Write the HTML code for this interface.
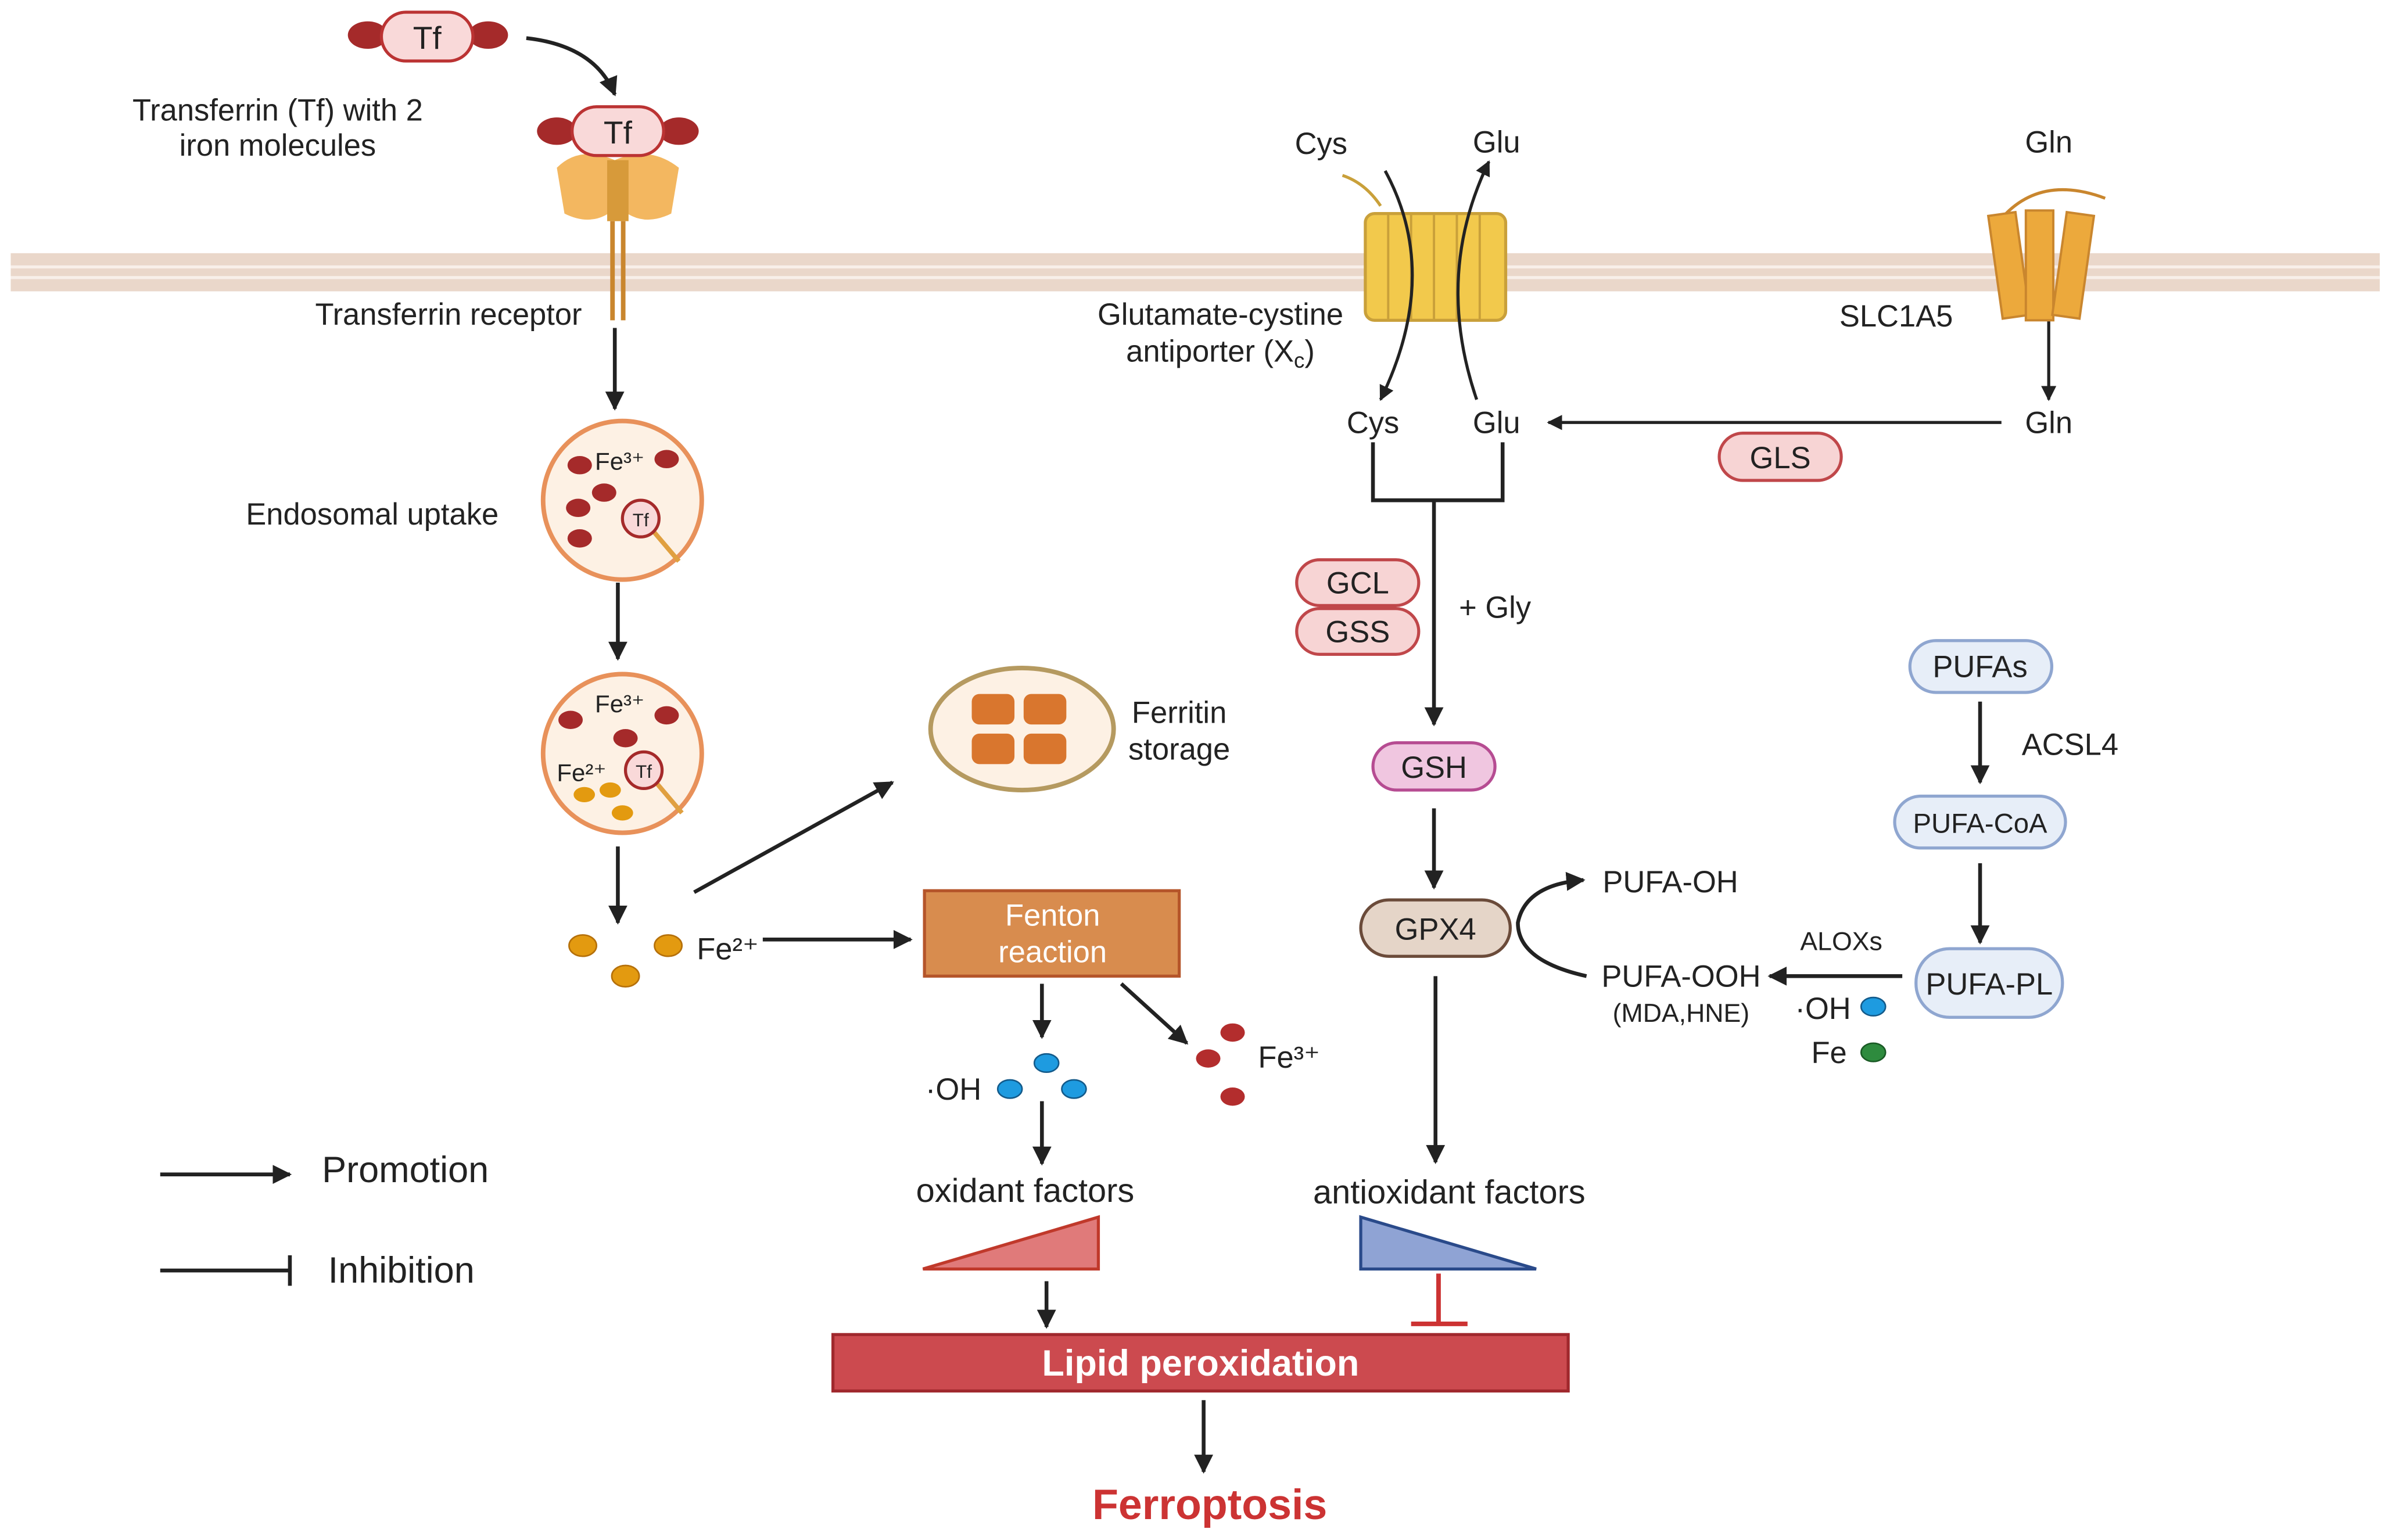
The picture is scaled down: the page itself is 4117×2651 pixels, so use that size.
<!DOCTYPE html>
<html><head><meta charset="utf-8"><style>html,body{margin:0;padding:0;background:#fff}svg{display:block}</style></head>
<body>
<svg width="4117" height="2651" viewBox="0 0 1568 1009.7" xmlns="http://www.w3.org/2000/svg" font-family="Liberation Sans, sans-serif">
<defs>
<marker id="ah" viewBox="0 0 10 10" refX="9" refY="5" markerWidth="5" markerHeight="5" orient="auto-start-reverse"><path d="M0,0 L10,5 L0,10 z" fill="#222"/></marker>
</defs>
<rect width="1568" height="1010" fill="#fff"/>
<!-- membrane -->
<rect x="7" y="166" width="1553" height="25" fill="#ead7ca"/>
<rect x="7" y="174" width="1553" height="2" fill="#f8efe9"/>
<rect x="7" y="181" width="1553" height="2" fill="#f8efe9"/>
<!-- Xc transporter -->
<rect x="895" y="140" width="92" height="70" rx="6" fill="#f2c94c" stroke="#c9a03a" stroke-width="2"/>
<g stroke="#c9a03a" stroke-width="1.5"><line x1="910" y1="140" x2="910" y2="210"/><line x1="925" y1="140" x2="925" y2="210"/><line x1="940" y1="140" x2="940" y2="210"/><line x1="955" y1="140" x2="955" y2="210"/><line x1="970" y1="140" x2="970" y2="210"/></g>
<g stroke="#222" stroke-width="2.5" fill="none" marker-end="url(#ah)">
<path d="M345,25 Q390,30 403,62"/>
<line x1="403" y1="215" x2="403" y2="268"/>
<line x1="405" y1="382" x2="405" y2="432"/>
<line x1="405" y1="555" x2="405" y2="605"/>
<line x1="500" y1="616" x2="597" y2="616"/>
<line x1="455" y1="585" x2="585" y2="513"/>
<line x1="683" y1="645" x2="683" y2="680"/>
<line x1="735" y1="645" x2="778" y2="684"/>
<line x1="683" y1="722" x2="683" y2="763"/>
<line x1="686" y1="840" x2="686" y2="870"/>
<line x1="789" y1="918" x2="789" y2="965"/>
<line x1="105" y1="770" x2="190" y2="770"/>
<line x1="940" y1="328" x2="940" y2="475"/>
<line x1="940" y1="530" x2="940" y2="582"/>
<line x1="941" y1="640" x2="941" y2="762"/>
<line x1="1343" y1="140" x2="1343" y2="262" stroke-width="2"/>
<line x1="1312" y1="277" x2="1015" y2="277" stroke-width="2"/>
<line x1="1298" y1="460" x2="1298" y2="513"/>
<line x1="1298" y1="566" x2="1298" y2="618"/>
<line x1="1247" y1="640" x2="1160" y2="640"/>
<path d="M1040,640 Q995,630 995,605 Q1000,580 1038,577"/>
<path d="M908,112 Q945,180 905,262" stroke-width="2"/>
<path d="M968,262 Q940,180 976,106" stroke-width="2"/>
</g>
<g stroke="#222" stroke-width="2.5" fill="none">
<line x1="105" y1="833" x2="190" y2="833"/><line x1="190" y1="823" x2="190" y2="843"/>
<path d="M900,290 V328 H985 V290"/>
</g>
<path d="M880,115 Q895,120 905,135" stroke="#c9a03a" stroke-width="2" fill="none"/>
<g stroke="#cc3333" stroke-width="3"><line x1="943" y1="835" x2="943" y2="868"/><line x1="925" y1="868" x2="962" y2="868"/></g>
<!-- Tf top -->
<ellipse cx="241" cy="23" rx="13" ry="9" fill="#a52a2a"/><ellipse cx="320" cy="23" rx="13" ry="9" fill="#a52a2a"/>
<rect x="250" y="8" width="60" height="32" rx="16" fill="#f9d9d9" stroke="#b33" stroke-width="2"/>
<text x="280" y="32" font-size="21" text-anchor="middle" fill="#222">Tf</text>
<!-- receptor -->
<path d="M365,110 Q380,95 403,105 Q426,95 445,110 L440,140 Q420,150 405,135 Q390,150 370,140 Z" fill="#f3b760"/>
<rect x="398" y="105" width="14" height="40" fill="#d79a3a"/>
<rect x="400" y="145" width="3" height="65" fill="#c9862e"/><rect x="407" y="145" width="3" height="65" fill="#c9862e"/>
<ellipse cx="365" cy="86" rx="13" ry="9" fill="#a52a2a"/><ellipse cx="445" cy="86" rx="13" ry="9" fill="#a52a2a"/>
<rect x="375" y="70" width="60" height="32" rx="16" fill="#f9d9d9" stroke="#b33" stroke-width="2"/>
<text x="405" y="94" font-size="21" text-anchor="middle" fill="#222">Tf</text>
<!-- endosomes -->
<circle cx="408" cy="328" r="52" fill="#fdf1e4" stroke="#e8915a" stroke-width="3"/>
<g fill="#a52a2a"><ellipse cx="380" cy="305" rx="8" ry="6"/><ellipse cx="437" cy="301" rx="8" ry="6"/><ellipse cx="379" cy="333" rx="8" ry="6"/><ellipse cx="396" cy="323" rx="8" ry="6"/><ellipse cx="380" cy="353" rx="8" ry="6"/></g>
<line x1="428" y1="348" x2="445" y2="368" stroke="#e0a040" stroke-width="3"/>
<circle cx="420" cy="340" r="12" fill="#f9d9d9" stroke="#a52a2a" stroke-width="2"/>
<text x="420" y="345" font-size="12" text-anchor="middle" fill="#222">Tf</text>
<text x="390" y="308" font-size="16" fill="#222">Fe³⁺</text>
<circle cx="408" cy="494" r="52" fill="#fdf1e4" stroke="#e8915a" stroke-width="3"/>
<g fill="#a52a2a"><ellipse cx="374" cy="472" rx="8" ry="6"/><ellipse cx="437" cy="469" rx="8" ry="6"/><ellipse cx="410" cy="484" rx="8" ry="6"/></g>
<g fill="#e39a10"><ellipse cx="383" cy="521" rx="7" ry="5"/><ellipse cx="400" cy="518" rx="7" ry="5"/><ellipse cx="408" cy="533" rx="7" ry="5"/></g>
<line x1="430" y1="513" x2="447" y2="533" stroke="#e0a040" stroke-width="3"/>
<circle cx="422" cy="505" r="12" fill="#f9d9d9" stroke="#a52a2a" stroke-width="2"/>
<text x="422" y="510" font-size="12" text-anchor="middle" fill="#222">Tf</text>
<text x="390" y="467" font-size="16" fill="#222">Fe³⁺</text><text x="365" y="512" font-size="16" fill="#222">Fe²⁺</text>
<g fill="#e39a10" stroke="#b5700a"><ellipse cx="382" cy="620" rx="9" ry="7"/><ellipse cx="438" cy="620" rx="9" ry="7"/><ellipse cx="410" cy="640" rx="9" ry="7"/></g>
<!-- ferritin -->
<ellipse cx="670" cy="478" rx="60" ry="40" fill="#fdf1e4" stroke="#b59a60" stroke-width="3"/>
<g fill="#d9762e"><rect x="637" y="455" width="28" height="20" rx="5"/><rect x="671" y="455" width="28" height="20" rx="5"/><rect x="637" y="481" width="28" height="20" rx="5"/><rect x="671" y="481" width="28" height="20" rx="5"/></g>
<!-- Fenton -->
<rect x="606" y="584" width="167" height="56" fill="#d88c4e" stroke="#b5552a" stroke-width="2"/>
<text x="690" y="607" font-size="20" fill="#fff" text-anchor="middle">Fenton</text>
<text x="690" y="631" font-size="20" fill="#fff" text-anchor="middle">reaction</text>
<g fill="#1e9be0" stroke="#135a8a"><ellipse cx="662" cy="714" rx="8" ry="6"/><ellipse cx="686" cy="697" rx="8" ry="6"/><ellipse cx="704" cy="714" rx="8" ry="6"/><ellipse cx="1228" cy="660" rx="8" ry="6"/></g>
<g fill="#b32d2d"><ellipse cx="808" cy="677" rx="8" ry="6"/><ellipse cx="792" cy="694" rx="8" ry="6"/><ellipse cx="808" cy="719" rx="8" ry="6"/></g>
<ellipse cx="1228" cy="690" rx="8" ry="6" fill="#2e8b3e" stroke="#1a5a25"/>
<polygon points="605,832 720,832 720,798" fill="#e07a7a" stroke="#c0392b" stroke-width="2"/>
<polygon points="892,798 892,832 1007,832" fill="#8fa3d4" stroke="#2a4a8a" stroke-width="2"/>
<rect x="546" y="875" width="482" height="37" fill="#cc4a4f" stroke="#a0282d" stroke-width="2"/>
<text x="787" y="902" font-size="24" font-weight="bold" fill="#fff" text-anchor="middle">Lipid peroxidation</text>
<text x="793" y="996" font-size="28" font-weight="bold" fill="#cc3333" text-anchor="middle">Ferroptosis</text>
<!-- Gln transporter -->
<g fill="#eca93c" stroke="#c9862e" stroke-width="1.5"><rect x="1308" y="140" width="18" height="68" transform="rotate(-8 1317 174)"/><rect x="1328" y="138" width="18" height="72"/><rect x="1350" y="140" width="18" height="68" transform="rotate(8 1359 174)"/></g>
<path d="M1315,140 Q1340,115 1380,130" stroke="#c9862e" stroke-width="2" fill="none"/>
<g stroke-width="2">
<rect x="1127" y="284" width="80" height="31" rx="15.5" fill="#f7d4d4" stroke="#c0474a"/>
<rect x="850" y="367" width="80" height="30" rx="15" fill="#f7d4d4" stroke="#c0474a"/>
<rect x="850" y="399" width="80" height="30" rx="15" fill="#f7d4d4" stroke="#c0474a"/>
<rect x="900" y="487" width="80" height="31" rx="15.5" fill="#f0c6e0" stroke="#b64c92"/>
<rect x="892" y="590" width="98" height="37" rx="18.5" fill="#e5d5c8" stroke="#6b4b3a"/>
<rect x="1252" y="420" width="93" height="34" rx="17" fill="#e7eef8" stroke="#8fa6d0"/>
<rect x="1242" y="522" width="112" height="34" rx="17" fill="#e7eef8" stroke="#8fa6d0"/>
<rect x="1256" y="622" width="96" height="45" rx="22" fill="#e7eef8" stroke="#8fa6d0"/>
</g>
<g font-size="20" fill="#222" text-anchor="middle">
<text x="1167" y="307">GLS</text><text x="890" y="389">GCL</text><text x="890" y="421">GSS</text>
<text x="940" y="510">GSH</text><text x="941" y="616">GPX4</text><text x="1298" y="444">PUFAs</text>
<text x="1298" y="546" font-size="18">PUFA-CoA</text><text x="1304" y="652">PUFA-PL</text>
<text x="182" y="79">Transferrin (Tf) with 2</text><text x="182" y="102">iron molecules</text>
<text x="294" y="213">Transferrin receptor</text><text x="244" y="344">Endosomal uptake</text>
<text x="773" y="474">Ferritin</text><text x="773" y="498">storage</text>
<text x="672" y="788" font-size="22">oxidant factors</text><text x="950" y="789" font-size="22">antioxidant factors</text>
<text x="866" y="101">Cys</text><text x="981" y="100">Glu</text>
<text x="800" y="213">Glutamate-cystine</text><text x="800" y="237">antiporter (X<tspan font-size="14" dy="4">c</tspan><tspan dy="-4">)</tspan></text>
<text x="900" y="284">Cys</text><text x="981" y="284">Glu</text>
<text x="1343" y="100">Gln</text><text x="1343" y="284">Gln</text><text x="1243" y="214">SLC1A5</text>
<text x="980" y="405">+ Gly</text><text x="1357" y="495">ACSL4</text>
<text x="1095" y="585">PUFA-OH</text><text x="1102" y="647">PUFA-OOH</text><text x="1102" y="670" font-size="17">(MDA,HNE)</text>
<text x="1207" y="623" font-size="17">ALOXs</text><text x="1195" y="668">·OH</text><text x="1199" y="697">Fe</text>
<text x="625" y="721">·OH</text><text x="845" y="700">Fe³⁺</text><text x="477" y="629">Fe²⁺</text>
</g>
<text x="211" y="775" font-size="24" fill="#222">Promotion</text>
<text x="215" y="841" font-size="24" fill="#222">Inhibition</text>
</svg>
</body></html>
